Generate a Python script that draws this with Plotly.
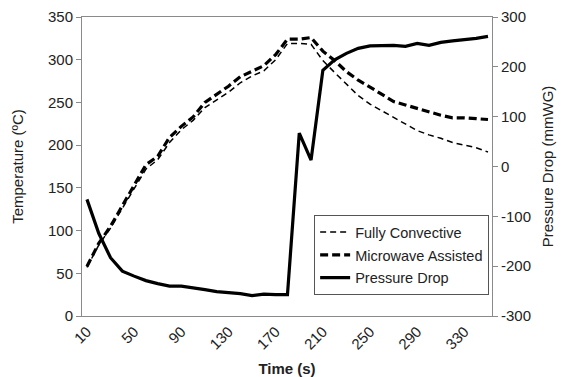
import plotly.graph_objects as go

time_s = list(range(10, 360, 10))

fully_convective = [57, 83, 103, 126, 150, 172, 183, 203, 218, 229,
                    244, 253, 262, 273, 281, 287, 300, 319, 319, 318,
                    299, 285, 271, 258, 248, 240, 232, 224, 217, 212,
                    208, 203, 200, 197, 192]

microwave_assisted = [58, 85, 105, 129, 153, 177, 187, 209, 222, 233,
                      250, 259, 269, 280, 287, 293, 306, 324, 324, 326,
                      310, 299, 286, 276, 268, 260, 251, 247, 243, 239,
                      235, 232, 232, 231, 230]

pressure_drop = [-66, -134, -183, -210, -220, -229, -235, -240, -240, -243,
                 -247, -251, -253, -255, -259, -256, -257, -257, 67, 13,
                 193, 214, 227, 237, 242, 243, 243, 241, 247, 243,
                 249, 252, 254, 257, 261]

x_ticks = list(range(10, 340, 40))
y2_ticks = [-300, -200, -100, 0, 100, 200, 300]

FONT = "Liberation Sans, Arial, sans-serif"
AX = "#8a8a8a"

fig = go.Figure()
fig.add_trace(go.Scatter(
    x=time_s, y=fully_convective, name="Fully Convective", mode="lines",
    line=dict(color="black", width=1.5, dash="6px,4px"), legendgroup="a"))
fig.add_trace(go.Scatter(
    x=time_s, y=microwave_assisted, name="Microwave Assisted", mode="lines",
    line=dict(color="black", width=3.2, dash="8px,4px"), legendgroup="b"))
fig.add_trace(go.Scatter(
    x=time_s, y=pressure_drop, name="Pressure Drop", mode="lines",
    line=dict(color="black", width=3.2), yaxis="y2", legendgroup="c"))

fig.update_layout(
    width=568, height=377,
    margin=dict(l=82, r=76, t=17, b=61),
    paper_bgcolor="white", plot_bgcolor="white",
    font=dict(family=FONT, size=15, color="#222"),
    showlegend=True,
    legend=dict(
        x=0.993, y=0.07, xanchor="right", yanchor="bottom",
        bgcolor="white", bordercolor="#555", borderwidth=1,
        font=dict(family=FONT, size=14.5, color="#222"),
        tracegroupgap=1, itemwidth=30,
    ),
    xaxis=dict(
        range=[5.8, 353.4], tickmode="array", tickvals=x_ticks,
        ticktext=[str(v) for v in x_ticks], tickangle=-45,
        showgrid=False, zeroline=False, showline=True, linecolor=AX,
        linewidth=1, mirror=True, ticks="", automargin=False,
        title=dict(text="<b>Time (s)</b>", font=dict(size=15), standoff=16),
    ),
    yaxis=dict(
        range=[0, 350], dtick=50, showgrid=False, zeroline=False,
        showline=True, linecolor=AX, linewidth=1, ticks="outside",
        ticklen=5, tickcolor=AX, automargin=False,
        title=dict(text="Temperature (ºC)", font=dict(size=15), standoff=20),
    ),
    yaxis2=dict(
        range=[-300, 300], tickmode="array", tickvals=y2_ticks,
        ticktext=[str(v) for v in y2_ticks], overlaying="y", side="right",
        showgrid=False, zeroline=False, showline=True, linecolor=AX,
        linewidth=1, ticks="outside", ticklen=5, tickcolor=AX,
        automargin=False,
        title=dict(text="Pressure Drop (mmWG)", font=dict(size=15), standoff=12),
    ),
)

fig.write_html("out.html")
